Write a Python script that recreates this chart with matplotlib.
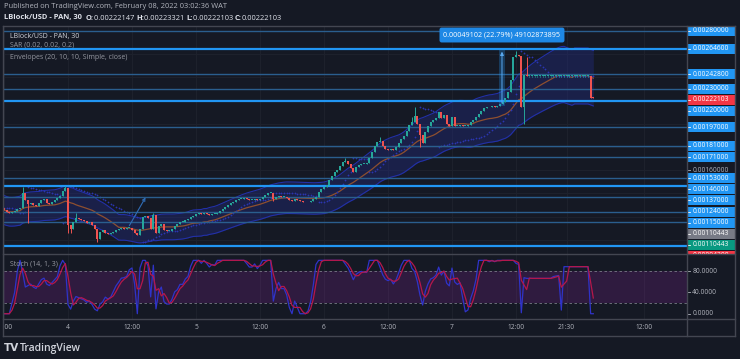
#!/usr/bin/env python3

import numpy as np
import pandas as pd
import matplotlib
matplotlib.use("Agg")
import matplotlib.pyplot as plt
import matplotlib.dates as mdates
import matplotlib.transforms as mtransforms
from matplotlib.lines import Line2D
from matplotlib.patches import Rectangle

plt.rcParams["font.family"] = ["Open Sans", "DejaVu Sans"]

# ---- data -------------------------------------------------------------
start_time = "2022-02-03 12:00"  # first visible 30 min candle
first_open = 0.0012733
last_open = 0.00222147

closes = [
    0.0012561, 0.0012388, 0.0012302, 0.0012388, 0.0012475, 0.0012647, 0.0012733, 0.0014027,
    0.0013423, 0.0013078, 0.0013165, 0.0012992, 0.0012906, 0.0013165, 0.0013423, 0.0013510,
    0.0013165, 0.0013078, 0.0013251, 0.0013423, 0.0013596, 0.0013768, 0.0014200, 0.0014458,
    0.0011267, 0.0010922, 0.0011526, 0.0011871, 0.0011785, 0.0011698, 0.0011612, 0.0011440,
    0.0011526, 0.0011267, 0.0010922, 0.0010060, 0.0010663, 0.0010836, 0.0010577, 0.0010491,
    0.0010577, 0.0010663, 0.0010836, 0.0010922, 0.0011008, 0.0010965, 0.0011008, 0.0011008,
    0.0010836, 0.0010577, 0.0010405, 0.0010922, 0.0011957, 0.0012043, 0.0011871, 0.0010922,
    0.0012130, 0.0010577, 0.0011181, 0.0011353, 0.0010836, 0.0010750, 0.0010750, 0.0010922,
    0.0011181, 0.0011353, 0.0011526, 0.0011526, 0.0011698, 0.0011785, 0.0011957, 0.0012043,
    0.0012216, 0.0012302, 0.0012216, 0.0012302, 0.0012216, 0.0012130, 0.0012216, 0.0012216,
    0.0012302, 0.0012475, 0.0012647, 0.0012820, 0.0012992, 0.0013165, 0.0013251, 0.0013423,
    0.0013510, 0.0013510, 0.0013596, 0.0013510, 0.0013423, 0.0013423, 0.0013510, 0.0013423,
    0.0013510, 0.0013682, 0.0013855, 0.0014027, 0.0014070, 0.0013510, 0.0013682, 0.0013768,
    0.0013682, 0.0013682, 0.0013596, 0.0013423, 0.0013337, 0.0013510, 0.0013423, 0.0013337,
    0.0013251, 0.0013208, 0.0013251, 0.0013337, 0.0013510, 0.0013725, 0.0014113, 0.0014372,
    0.0014545, 0.0014717, 0.0015149, 0.0015493, 0.0015839, 0.0016011, 0.0016356, 0.0016701,
    0.0016787, 0.0016529, 0.0016183, 0.0015839, 0.0016270, 0.0016442, 0.0016529, 0.0016529,
    0.0016615, 0.0017046, 0.0017564, 0.0018081, 0.0018426, 0.0018512, 0.0018081, 0.0017822,
    0.0017736, 0.0017822, 0.0017736, 0.0017995, 0.0018340, 0.0018685, 0.0018944, 0.0019375,
    0.0019892, 0.0020151, 0.0020669, 0.0019979, 0.0019030, 0.0018340, 0.0019289, 0.0019806,
    0.0020151, 0.0020324, 0.0020496, 0.0021014, 0.0020496, 0.0020755, 0.0019979, 0.0019806,
    0.0020582, 0.0019806, 0.0019806, 0.0019892, 0.0019806, 0.0019849, 0.0019892, 0.0020151,
    0.0020324, 0.0020582, 0.0020841, 0.0021100, 0.0021359, 0.0021445, 0.0021402, 0.0021488,
    0.0021445, 0.0021531, 0.0021704, 0.0021876, 0.0022221, 0.0022739, 0.0023774, 0.0025757,
    0.0025930, 0.0025844, 0.0021445, 0.0024205, 0.0024119, 0.0024119, 0.0024119, 0.0024119,
    0.0024119, 0.0024119, 0.0024119, 0.0024119, 0.0024119, 0.0024119, 0.0024119, 0.0024119,
    0.0024119, 0.0024119, 0.0024119, 0.0024119, 0.0024119, 0.0024119, 0.0024119, 0.0024119,
    0.0024119, 0.0024119, 0.0024119, 0.0024119, 0.0022221, 0.00222103,
]

# wicks that stick out of the bodies
high_wicks = {7: 0.0014545, 23: 0.0014588, 27: 0.0012302, 56: 0.0012302, 128: 0.0017046,
              141: 0.0018900, 153: 0.0020582, 154: 0.0021445, 192: 0.0026232, 196: 0.0025757,
              221: 0.00223321}
low_wicks = {9: 0.0011440, 24: 0.0010577, 25: 0.0010577, 35: 0.0009801, 101: 0.0013337,
             156: 0.0018021, 195: 0.0019979}
# the quiet stretch after the spike: tiny doji candles
doji_first, doji_last = 197, 219
doji_high, doji_low = 0.0024135, 0.0024000

levels = [0.0028, 0.002646, 0.002428, 0.0023, 0.0022, 0.00197, 0.00181, 0.00171,
          0.00153, 0.00146, 0.00137, 0.00124, 0.00115, 0.000943]
level_bright = [False, True, False, False, True, False, False, False,
                False, True, False, False, False, True]

axis_labels = [0.0028, 0.002646, 0.002428, 0.0023, 0.00222103, 0.0022, 0.00197, 0.00181,
               0.00171, 0.00153, 0.00146, 0.00137, 0.00124, 0.00115, 0.00110443,
               0.00110443, 0.000943]
axis_label_kind = ["line", "line", "line", "line", "last", "line", "line", "line",
                   "line", "line", "line", "line", "line", "line", "gray", "green", "last"]

measure_from, measure_to = "2022-02-07 08:45", "2022-02-07 10:00"
measure_low, measure_high = 0.0021546, 0.0026456
measure_text = "0.00049102 (22.79%) 49102873895"

arrow_from = ("2022-02-04 11:15", 0.0011009)
arrow_to = ("2022-02-04 14:48", 0.0013855)

time_ticks = ["2022-02-03 12:00", "2022-02-04 00:00", "2022-02-04 12:00", "2022-02-05 00:00",
              "2022-02-05 12:00", "2022-02-06 00:00", "2022-02-06 12:00", "2022-02-07 00:00",
              "2022-02-07 12:00", "2022-02-07 21:30", "2022-02-08 12:00"]
time_labels = ["12:00", "4", "12:00", "5", "12:00", "6", "12:00", "7", "12:00", "21:30", "12:00"]

# ---- styling ------------------------------------------------------------
W, H = 740, 359
bg = "#151924"
frame_c = "#434651"
grid_c = "#1d212c"
up_c, down_c = "#26a69a", "#ef5350"
line_blue = "#2196f3"
dim_blue = "#2a5e8e"
txt_c = "#d1d4dc"
gray_c = "#9598a1"


def fx(px):
    return px / W


def fy(py):
    return 1 - py / H


def box(x0, y0, x1, y1):
    return [fx(x0), fy(y1), fx(x1) - fx(x0), fy(y0) - fy(y1)]


def parabolic_sar(high, low, start=0.02, inc=0.02, maxaf=0.2):
    n = len(high)
    sar = np.zeros(n)
    up = high[1] >= high[0]
    af = start
    ep = high[0] if up else low[0]
    sar[0] = low[0] if up else high[0]
    for i in range(1, n):
        s = sar[i - 1] + af * (ep - sar[i - 1])
        if up:
            s = min(s, low[i - 1], low[max(i - 2, 0)])
            if low[i] < s:
                up, s, ep, af = False, ep, low[i], start
            elif high[i] > ep:
                ep, af = high[i], min(af + inc, maxaf)
        else:
            s = max(s, high[i - 1], high[max(i - 2, 0)])
            if high[i] > s:
                up, s, ep, af = True, ep, high[i], start
            elif low[i] < ep:
                ep, af = low[i], min(af + inc, maxaf)
        sar[i] = s
    return sar


def main():
    c = pd.Series(closes)
    o = c.shift(1)
    o.iloc[0] = first_open
    o.iloc[-1] = last_open
    h = pd.Series(np.maximum(o.values, c.values))
    l = pd.Series(np.minimum(o.values, c.values))
    for k, v in high_wicks.items():
        h.iloc[k] = v
    for k, v in low_wicks.items():
        l.iloc[k] = v
    h.iloc[doji_first:doji_last + 1] = doji_high
    l.iloc[doji_first:doji_last + 1] = doji_low

    times = pd.date_range(start_time, periods=len(c), freq="30min")
    x = mdates.date2num(times)
    step = 1 / 48

    basis = c.rolling(20, min_periods=1).mean()
    upper = basis * 1.1
    lower = basis * 0.9
    sar = parabolic_sar(h.values, l.values)

    ll = l.rolling(14, min_periods=1).min()
    hh = h.rolling(14, min_periods=1).max()
    k = (100 * (c - ll) / (hh - ll).replace(0, np.nan)).ffill().fillna(50)
    d = k.rolling(3, min_periods=1).mean()

    fig = plt.figure(figsize=(W / 100, H / 100), dpi=100, facecolor=bg)
    x0 = mdates.date2num(pd.Timestamp("2022-02-03 11:54:22"))
    x1 = mdates.date2num(pd.Timestamp("2022-02-08 20:04"))
    ylo, yhi = 0.0008766, 0.0028431

    ax = fig.add_axes(box(3.5, 26, 687, 254))
    ax_s = fig.add_axes(box(3.5, 254, 687, 319), sharex=ax)
    ax_t = fig.add_axes(box(3.5, 319, 687, 336), sharex=ax)
    ax_p = fig.add_axes(box(687, 26, 735, 254))
    ax_sp = fig.add_axes(box(687, 254, 735, 319))
    for a in (ax, ax_s, ax_t, ax_p, ax_sp):
        a.set_facecolor(bg)
        a.set_xticks([])
        a.set_yticks([])
        for sp in a.spines.values():
            sp.set_visible(False)
    ax.set_xlim(x0, x1)
    ax.set_ylim(ylo, yhi)
    ax_p.set_ylim(ylo, yhi)
    ax_p.set_xlim(0, 1)
    ax_s.set_ylim(-9.9, 111.9)
    ax_sp.set_ylim(-9.9, 111.9)
    ax_sp.set_xlim(0, 1)
    ax_t.set_ylim(0, 1)

    # grid
    tick_x = mdates.date2num(pd.to_datetime(time_ticks))
    for t in tick_x:
        ax.axvline(t, color=grid_c, lw=0.8, zorder=0)
        ax_s.axvline(t, color=grid_c, lw=0.8, zorder=0)
    price_ticks = np.arange(0.0010, 0.00281, 0.0002)
    for v in price_ticks:
        ax.axhline(v, color=grid_c, lw=0.8, zorder=0)

    # envelopes
    ax.fill_between(x, lower, upper, color="#222a78", alpha=0.45, lw=0, zorder=1)
    ax.plot(x, upper, color="#2230a8", lw=0.8, zorder=2)
    ax.plot(x, lower, color="#2230a8", lw=0.8, zorder=2)
    ax.plot(x, basis, color="#8e4f2f", lw=0.9, zorder=2)
    ax.scatter(x, sar, marker="+", s=3, lw=0.5, color="#2b35b0", zorder=2)

    # horizontal levels
    for v, b in zip(levels, level_bright):
        ax.axhline(v, color=line_blue if b else dim_blue, lw=1.6 if b else 1.0, zorder=3)

    # candles
    col = np.where(c >= o, up_c, down_c)
    ax.vlines(x, l, h, colors=col, lw=0.7, zorder=4)
    body_lo = np.minimum(o, c)
    body_h = np.maximum(np.abs(c - o), 0.0000075)
    ax.bar(x, body_h, step * 0.72, bottom=body_lo, color=col, lw=0, zorder=5)

    # price range tool
    m0, m1 = mdates.date2num(pd.Timestamp(measure_from)), mdates.date2num(pd.Timestamp(measure_to))
    ax.add_patch(Rectangle((m0, measure_low), m1 - m0, measure_high - measure_low,
                           color=line_blue, alpha=0.28, lw=0, zorder=6))
    ax.annotate("", xy=((m0 + m1) / 2, measure_high), xytext=((m0 + m1) / 2, measure_low),
                arrowprops=dict(arrowstyle="-|>", color="#5aa9f0", lw=0.7, mutation_scale=5),
                zorder=6)
    ax.text((m0 + m1) / 2, 0.0027655, measure_text, ha="center", va="center", fontsize=5.2,
            color="white", zorder=8,
            bbox=dict(boxstyle="round,pad=0.55,rounding_size=0.3", fc="#1e88e5", ec="none"))

    # drawn arrow
    ax.annotate("", xy=(mdates.date2num(pd.Timestamp(arrow_to[0])), arrow_to[1]),
                xytext=(mdates.date2num(pd.Timestamp(arrow_from[0])), arrow_from[1]),
                arrowprops=dict(arrowstyle="->", color="#2f6cb5", lw=0.8, mutation_scale=5),
                zorder=6)

    # legends inside panes
    ax.text(0.009, 0.953, "LBlock/USD - PAN, 30", transform=ax.transAxes, fontsize=5,
            color=txt_c, va="center", zorder=9)
    ax.text(0.009, 0.917, "SAR (0.02, 0.02, 0.2)", transform=ax.transAxes, fontsize=5,
            color=gray_c, va="center", zorder=2)
    ax.text(0.009, 0.863, "Envelopes (20, 10, 10, Simple, close)", transform=ax.transAxes,
            fontsize=5, color=gray_c, va="center", zorder=9)

    # stochastic pane
    ax_s.axhspan(20, 80, color="#9c27b0", alpha=0.2, lw=0, zorder=0)
    for v in (20, 80):
        ax_s.axhline(v, color="#787b86", lw=0.6, ls=(0, (3, 3)), zorder=1)
    ax_s.plot(x, k, color="#2f33c9", lw=0.9, zorder=3)
    ax_s.plot(x, d, color="#b5174b", lw=0.9, zorder=4)
    ax_s.text(0.009, 0.84, "Stoch (14, 1, 3)", transform=ax_s.transAxes, fontsize=5,
              color=gray_c, va="center", zorder=5)

    # time axis
    tr_t = mtransforms.blended_transform_factory(ax_t.transData, ax_t.transAxes)
    for t, lab in zip(tick_x, time_labels):
        ax_t.text(t, 0.5, lab, transform=tr_t, ha="center", va="center", fontsize=4.8,
                  color="#b2b5be", clip_on=True)

    # price axis: stacked labels first, plain ticks only where they stay free
    tr_p = mtransforms.blended_transform_factory(ax_p.transAxes, ax_p.transData)
    px_per_unit = (ax_p.bbox.height) / (yhi - ylo)
    gap = 11 / px_per_unit
    hgt = 10 / px_per_unit
    order = sorted(range(len(axis_labels)), key=lambda i: -axis_labels[i])
    prev = None
    placed = []
    fills = {"line": line_blue, "last": "#f23645", "gray": "#787b86", "green": "#089981"}
    for i in order:
        v = axis_labels[i]
        p = v if prev is None else min(v, prev - gap)
        prev = p
        placed.append(p)
        ax_p.add_patch(Rectangle((0, p - hgt / 2), 1, hgt, transform=tr_p,
                                 fc=fills[axis_label_kind[i]], ec="none", zorder=5))
        ax_p.plot([0, 0.06], [p, p], color="white", lw=0.6, transform=tr_p, zorder=6)
        ax_p.text(0.11, p, f"{v:.8f}", transform=tr_p, fontsize=4.8, color="white",
                  va="center", zorder=6)
    for v in price_ticks:
        if min(abs(v - p) for p in placed) * px_per_unit < 7.5:
            continue
        ax_p.plot([0, 0.06], [v, v], color="#b2b5be", lw=0.6, transform=tr_p)
        ax_p.text(0.11, v, f"{v:.8f}", transform=tr_p, fontsize=4.8, color="#b2b5be",
                  va="center")

    tr_sp = mtransforms.blended_transform_factory(ax_sp.transAxes, ax_sp.transData)
    for v in (80, 40, 0):
        ax_sp.plot([0, 0.06], [v, v], color="#b2b5be", lw=0.6, transform=tr_sp)
        ax_sp.text(0.11, v, f"{v:.4f}", transform=tr_sp, fontsize=4.8, color="#b2b5be",
                   va="center")

    # frame
    for (a, b, cc, dd) in [(3, 26, 735, 26), (3, 336, 735, 336), (3, 26, 3, 336),
                           (735, 26, 735, 336), (687, 26, 687, 336), (3, 254, 735, 254),
                           (3, 319, 735, 319)]:
        fig.add_artist(Line2D([fx(a), fx(cc)], [fy(b), fy(dd)], color=frame_c, lw=1.0))

    # header
    fig.text(fx(4), fy(7), "Published on TradingView.com, February 08, 2022 03:02:36 WAT",
             fontsize=5.4, color="#b2b5be", va="center")
    r = fig.canvas.get_renderer()
    pieces = [("LBlock/USD - PAN, 30  ", "bold"), ("O:", "bold"), ("0.00222147 ", "normal"),
              ("H:", "bold"), ("0.00223321 ", "normal"), ("L:", "bold"),
              ("0.00222103 ", "normal"), ("C:", "bold"), ("0.00222103", "normal")]
    px = 4
    for s, wgt in pieces:
        t = fig.text(fx(px), fy(18), s, fontsize=5.4, fontweight=wgt, color="#e0e3eb",
                     va="center")
        px += t.get_window_extent(renderer=r).width

    # footer logo
    fig.text(fx(4), fy(348), "TV", fontsize=7.5, fontweight="heavy", color=txt_c,
             va="center", family=["DejaVu Sans"])
    fig.text(fx(20), fy(348), "TradingView", fontsize=7.5, fontweight="semibold",
             color=txt_c, va="center")

    fig.savefig("out.png", dpi=100, facecolor=bg)


if __name__ == "__main__":
    main()
